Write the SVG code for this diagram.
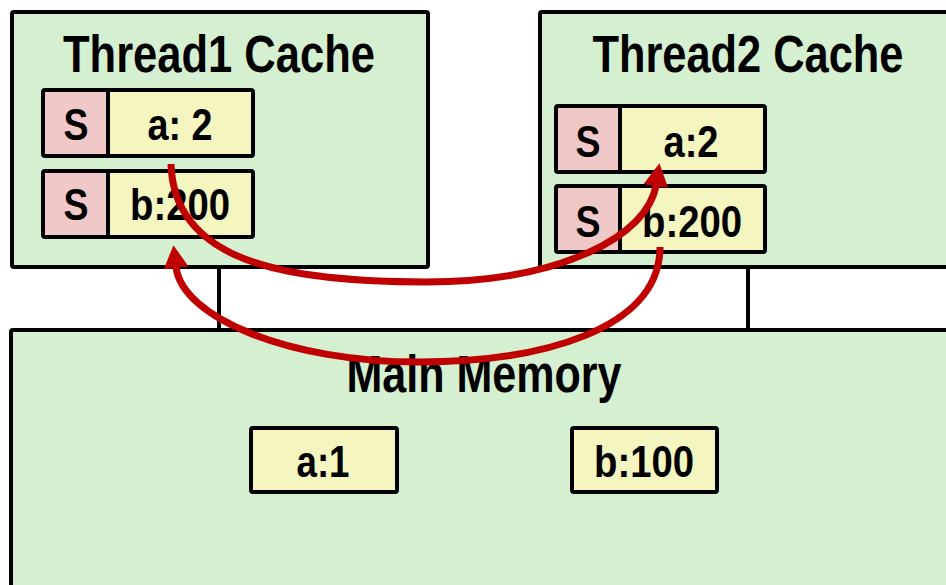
<svg xmlns="http://www.w3.org/2000/svg" width="946" height="585" viewBox="0 0 946 585">
<style>
.box{fill:#d5f0d0;stroke:#000;stroke-width:4}
.slot{fill:#f5f5c0;stroke:#000;stroke-width:4}
.st{fill:#f0c8c8}
.ln{stroke:#000;stroke-width:4;fill:none}
text{font-family:"Liberation Sans",Arial,sans-serif;font-weight:bold;fill:#000;text-anchor:middle}
.t{font-size:51px}
.v{font-size:44px}
.arr{fill:none;stroke:#c00000;stroke-width:7}
</style>
<defs>
<marker id="ah" markerUnits="userSpaceOnUse" markerWidth="23" markerHeight="25" viewBox="0 0 23 25" refX="1" refY="12.5" orient="auto">
<path d="M0,0 L23,12.5 L0,25 z" fill="#c00000"/>
</marker>
</defs>
<rect width="946" height="585" fill="#fff"/>
<g id="bus">
<line class="ln" x1="219" y1="266" x2="219" y2="332"/>
<line class="ln" x1="748" y1="266" x2="748" y2="332"/>
</g>
<g id="main-memory">
<rect class="box" x="11" y="330" width="945" height="270" rx="2"/>
<text class="t" x="484" y="392" textLength="275" lengthAdjust="spacingAndGlyphs">Main Memory</text>
</g>
<g id="mem-a">
<rect class="slot" x="251" y="428" width="146" height="64" rx="2"/>
<text class="v" x="323" y="477" textLength="53" lengthAdjust="spacingAndGlyphs">a:1</text>
</g>
<g id="mem-b">
<rect class="slot" x="572" y="428" width="145" height="64" rx="2"/>
<text class="v" x="644" y="477" textLength="100" lengthAdjust="spacingAndGlyphs">b:100</text>
</g>
<g id="thread1-cache">
<rect class="box" x="12" y="12" width="416" height="255" rx="2"/>
<text class="t" x="219" y="72" textLength="312" lengthAdjust="spacingAndGlyphs">Thread1 Cache</text>
</g>
<g id="t1-a">
<rect class="slot" x="43" y="90" width="210" height="66" rx="2"/>
<rect class="st" x="45" y="92" width="63" height="62"/>
<line class="ln" x1="108" y1="90" x2="108" y2="156"/>
<text class="v" x="76" y="140" textLength="25" lengthAdjust="spacingAndGlyphs">S</text>
<text class="v" x="180" y="140" textLength="65" lengthAdjust="spacingAndGlyphs">a: 2</text>
</g>
<g id="t1-b">
<rect class="slot" x="43" y="171" width="210" height="66" rx="2"/>
<rect class="st" x="45" y="173" width="63" height="62"/>
<line class="ln" x1="108" y1="171" x2="108" y2="237"/>
<text class="v" x="76" y="220" textLength="25" lengthAdjust="spacingAndGlyphs">S</text>
<text class="v" x="180" y="220" textLength="100" lengthAdjust="spacingAndGlyphs">b:200</text>
</g>
<g id="thread2-cache">
<rect class="box" x="540" y="12" width="416" height="255" rx="2"/>
<text class="t" x="748" y="72" textLength="311" lengthAdjust="spacingAndGlyphs">Thread2 Cache</text>
</g>
<g id="t2-a">
<rect class="slot" x="556" y="106" width="209" height="66" rx="2"/>
<rect class="st" x="558" y="108" width="62" height="62"/>
<line class="ln" x1="620" y1="106" x2="620" y2="172"/>
<text class="v" x="588" y="157" textLength="25" lengthAdjust="spacingAndGlyphs">S</text>
<text class="v" x="691" y="157" textLength="55" lengthAdjust="spacingAndGlyphs">a:2</text>
</g>
<g id="t2-b">
<rect class="slot" x="556" y="186" width="209" height="66" rx="2"/>
<rect class="st" x="558" y="188" width="62" height="62"/>
<line class="ln" x1="620" y1="186" x2="620" y2="252"/>
<text class="v" x="588" y="237" textLength="25" lengthAdjust="spacingAndGlyphs">S</text>
<text class="v" x="692" y="237" textLength="100" lengthAdjust="spacingAndGlyphs">b:200</text>
</g>
<g id="connectors">
<path class="arr" d="M171,164 C174,260 280,282 426,282 C560,282 648,236 656,185" marker-end="url(#ah)"/>
<path class="arr" d="M660,247 C660,330 540,362 419,362 C290,362 182,318 176,267" marker-end="url(#ah)"/>
</g>
</svg>
